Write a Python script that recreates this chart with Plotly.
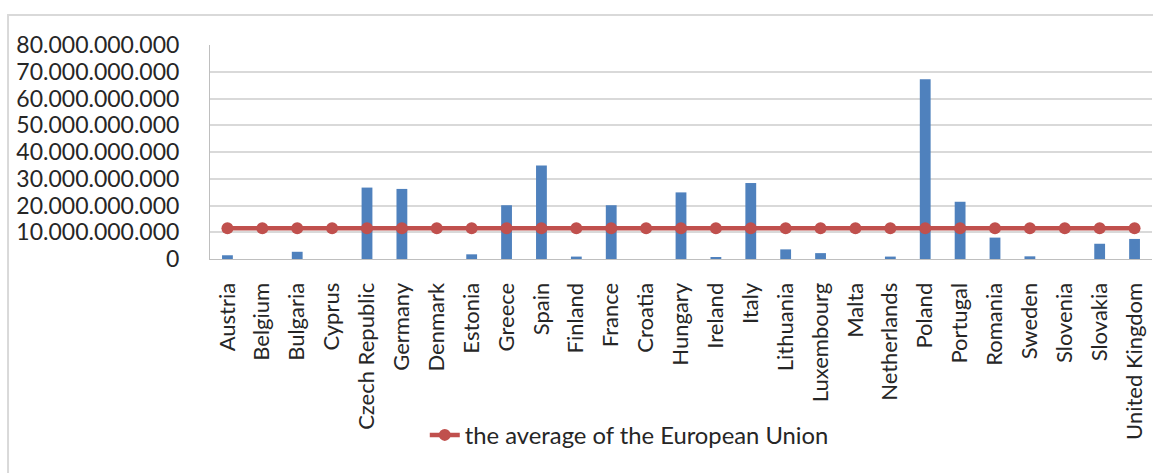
import plotly.graph_objects as go

countries = ["Austria", "Belgium", "Bulgaria", "Cyprus", "Czech Republic", "Germany", "Denmark",
             "Estonia", "Greece", "Spain", "Finland", "France", "Croatia", "Hungary", "Ireland",
             "Italy", "Lithuania", "Luxembourg", "Malta", "Netherlands", "Poland", "Portugal",
             "Romania", "Sweden", "Slovenia", "Slovakia", "United Kingdom"]
values = [1.4e9, 0, 2.7e9, 0, 26.7e9, 26.2e9, 0,
          1.75e9, 20.1e9, 35.0e9, 0.9e9, 20.1e9, 0, 24.9e9, 0.5e9,
          28.4e9, 3.6e9, 2.2e9, 0, 0.9e9, 67.2e9, 21.4e9,
          8.0e9, 1.0e9, 0, 5.7e9, 7.5e9]
eu_average = [11.5e9] * len(countries)

FONT = "Lato"

fig = go.Figure()
fig.add_trace(go.Bar(x=countries, y=values, width=0.31, marker=dict(color="#4F81BD", line=dict(width=0)),
                     showlegend=False, name="value"))
fig.add_trace(go.Scatter(x=countries, y=eu_average, mode="lines+markers",
                         name="the average of the European Union",
                         line=dict(color="#C0504D", width=4.5),
                         marker=dict(color="#C0504D", size=12)))

fig.update_layout(
    width=1153, height=473,
    margin=dict(l=210, r=1, t=45, b=214),
    paper_bgcolor="white", plot_bgcolor="white",
    separators=",.",
    font=dict(family=FONT, color="#262626"),
    legend=dict(orientation="h", x=0.228, y=-0.822, xanchor="left", yanchor="middle",
                font=dict(size=23.8, family=FONT, color="#262626"), bgcolor="rgba(0,0,0,0)"),
    shapes=[dict(type="rect", xref="paper", yref="paper", x0=-0.2144, x1=1.02, y0=-1.05, y1=1.140,
                 line=dict(color="#d9d9d9", width=2), fillcolor="rgba(0,0,0,0)", layer="below")],
)
fig.update_xaxes(type="category", range=[-0.5, len(countries) - 0.5], showgrid=False, showline=True,
                 linecolor="#bfbfbf", linewidth=1,
                 tickangle=-90, tickfont=dict(size=22, family=FONT, color="#262626"),
                 ticks="", ticklabelstandoff=14)
fig.update_yaxes(range=[0, 80e9], dtick=10e9, tickformat=",d", showgrid=True, gridcolor="#d9d9d9",
                 gridwidth=1.5, showline=True, linecolor="#bfbfbf", linewidth=1, zeroline=False,
                 tickfont=dict(size=23, family=FONT, color="#262626"), ticks="", ticklabelstandoff=25)

fig.write_html("out.html")
